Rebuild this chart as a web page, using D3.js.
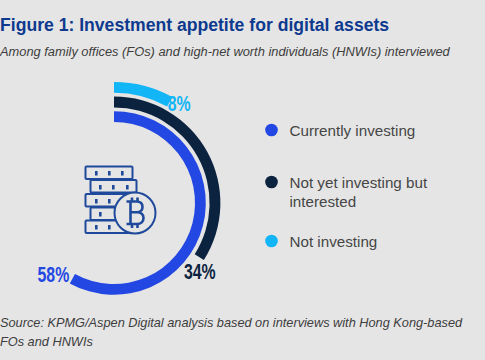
<!DOCTYPE html>
<html>
<head>
<meta charset="utf-8">
<script src="https://cdn.jsdelivr.net/npm/d3@7"></script>
<style>
  html, body { margin: 0; padding: 0; background: #e5e5e5; }
  svg { display: block; }
  text { font-family: "Liberation Sans", Arial, sans-serif; }
</style>
</head>
<body>
<div id="chart"></div>
<script>
var categories = ['Currently investing', 'Not yet investing but interested', 'Not investing'];
var values = [58, 34, 8];
var legendLines = [['Currently investing'], ['Not yet investing but', 'interested'], ['Not investing']];
var colors = ['#2347e2', '#0c2340', '#12b5f5'];

var width = 485, height = 360;
var cx = 114, cy = 203;

var svg = d3.select('#chart').append('svg')
  .attr('width', width)
  .attr('height', height);

svg.append('rect')
  .attr('width', width)
  .attr('height', height)
  .attr('fill', '#e5e5e5');

// title block
svg.append('text')
  .attr('x', 0).attr('y', 31)
  .attr('font-size', 17.6).attr('font-weight', 700)
  .attr('fill', '#0d3a8e')
  .text('Figure 1: Investment appetite for digital assets');

svg.append('text')
  .attr('x', 0).attr('y', 56)
  .attr('font-size', 12.85).attr('font-style', 'italic')
  .attr('fill', '#3d3d3d')
  .text('Among family offices (FOs) and high-net worth individuals (HNWIs) interviewed');

// rings, one per category, share of a full turn
var angle = d3.scaleLinear().domain([0, 100]).range([0, 2 * Math.PI]);
var radius = d3.scaleBand().domain(d3.range(categories.length)).range([81, 121]).paddingInner(0.26);

var arc = d3.arc()
  .startAngle(0)
  .endAngle(function (d) { return angle(d); })
  .innerRadius(function (d, i) { return radius(i); })
  .outerRadius(function (d, i) { return radius(i) + radius.bandwidth(); });

var rings = svg.append('g')
  .attr('transform', 'translate(' + cx + ',' + cy + ')');

rings.selectAll('path')
  .data(values)
  .enter().append('path')
  .attr('d', arc)
  .attr('fill', function (d, i) { return colors[i]; });

// value labels, placed just past the end of each ring
// no condensed face installed, so squeeze the bold one
var labelOffset = [[-19, 3], [0.5, 22], [9.5, 9.3]];

rings.selectAll('text')
  .data(values)
  .enter().append('text')
  .attr('transform', function (d, i) {
    var a = angle(d), r = radius(i) + radius.bandwidth() / 2;
    return 'translate(' + (r * Math.sin(a) + labelOffset[i][0]) + ',' + (-r * Math.cos(a) + labelOffset[i][1]) + ') scale(0.72,1)';
  })
  .attr('text-anchor', 'middle')
  .attr('font-size', 22).attr('font-weight', 700)
  .attr('fill', function (d, i) { return colors[i]; })
  .text(function (d) { return d + '%'; });

// legend
var legendY = [130, 182, 241];
var legend = svg.selectAll('.legend')
  .data(categories)
  .enter().append('g')
  .attr('class', 'legend')
  .attr('transform', function (d, i) { return 'translate(271.5,' + legendY[i] + ')'; });

legend.append('circle')
  .attr('r', 6.3)
  .attr('fill', function (d, i) { return colors[i]; });

legend.append('text')
  .attr('x', 18)
  .attr('y', 5.5)
  .attr('font-size', 15.2)
  .attr('fill', '#454545')
  .selectAll('tspan')
  .data(function (d, i) { return legendLines[i]; })
  .enter().append('tspan')
  .attr('x', 18)
  .attr('dy', function (d, i) { return i ? 19.5 : 0; })
  .text(function (d) { return d; });

// server stack + coin icon
var iconColor = '#1f4a9c';
var icon = svg.append('g')
  .attr('fill', 'none')
  .attr('stroke', iconColor)
  .attr('stroke-width', 2);

var slabs = [[85.5, 166.5, 47], [90.5, 180, 46], [85.5, 194, 46], [90.5, 207.5, 40], [85.5, 220.5, 46]];
icon.selectAll('.slab')
  .data(slabs)
  .enter().append('rect')
  .attr('class', 'slab')
  .attr('x', function (d) { return d[0]; })
  .attr('y', function (d) { return d[1]; })
  .attr('width', function (d) { return d[2]; })
  .attr('height', 12.5)
  .attr('rx', 1);

var studs = [[95, 171], [108, 171], [121, 171], [99, 185], [112, 185], [126, 185], [95, 199], [108, 199], [99, 212], [95, 225], [108, 225]];
icon.selectAll('.stud')
  .data(studs)
  .enter().append('rect')
  .attr('class', 'stud')
  .attr('x', function (d) { return d[0]; })
  .attr('y', function (d) { return d[1]; })
  .attr('width', 2.6)
  .attr('height', 4.5)
  .attr('fill', iconColor)
  .attr('stroke', 'none');

icon.append('circle')
  .attr('cx', 135).attr('cy', 213).attr('r', 20.5)
  .attr('fill', '#e5e5e5');

// bitcoin B
icon.append('path')
  .attr('stroke-width', 2.6)
  .attr('d', 'M126.500 201.500h10c4 0 6 2.400 6 5.400s-2 5.300-5.500 5.300c4 0 6.500 2.400 6.500 5.800 0 3.400-2.500 6-6.500 6h-10.500M130.500 201.500v22.500M130.500 212.200h6.500M132 197.500v4M137.500 197.500v4M132 224v4M137.500 224v4');

// source note
svg.append('text')
  .attr('x', 0).attr('y', 327)
  .attr('font-size', 12.75).attr('font-style', 'italic')
  .attr('fill', '#3d3d3d')
  .text('Source: KPMG/Aspen Digital analysis based on interviews with Hong Kong-based');

svg.append('text')
  .attr('x', 0).attr('y', 346)
  .attr('font-size', 12.75).attr('font-style', 'italic')
  .attr('fill', '#3d3d3d')
  .text('FOs and HNWIs');
</script>
</body>
</html>
